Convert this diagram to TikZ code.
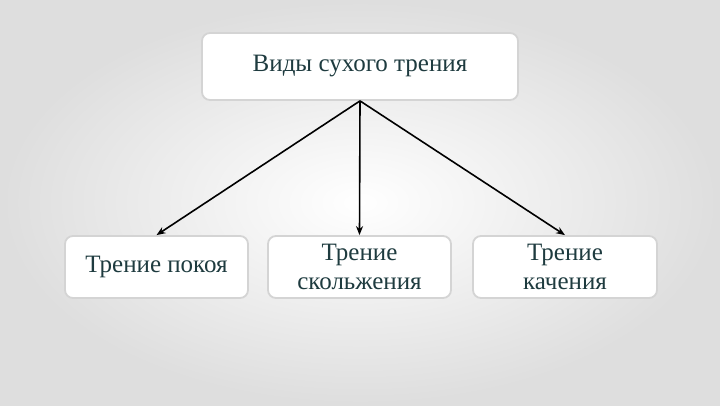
\documentclass[tikz,border=0pt]{standalone}
\usepackage{fontspec}
\setmainfont{Liberation Serif}
\usetikzlibrary{arrows.meta}
\definecolor{txt}{HTML}{1E3B3F}
\definecolor{rim}{HTML}{D4D4D4}
\tikzset{
  box/.style={draw=rim,line width=1.8pt,fill=white,rounded corners=8pt,
    text=txt,align=center,font=\fontsize{25}{29}\selectfont,inner sep=0pt},
  arr/.style={-{Stealth[length=9pt,width=7pt]},line width=1.6pt}
}
\begin{document}
\begin{tikzpicture}[x=1pt,y=1pt]
    \shade[inner color=white,outer color=black!13] (0,0) rectangle (720,405);
    \useasboundingbox (0,0) rectangle (720,405);
    \node[box,minimum width=316pt,minimum height=67pt] (vidy) at (360,338.5) {Виды сухого трения};
    \node[box,minimum width=183pt,minimum height=62pt] (pokoy) at (156.5,138) {Трение покоя};
    \node[box,minimum width=183pt,minimum height=62pt] (skolz) at (359.5,138) {Трение\\скольжения};
    \node[box,minimum width=184pt,minimum height=62pt] (kach) at (565,138) {Трение\\качения};
    \draw[arr](vidy.south)--(pokoy.north);
    \draw[arr](vidy.south)--(skolz.north);
    \draw[arr](vidy.south)--(kach.north);
  \end{tikzpicture}
\end{document}
